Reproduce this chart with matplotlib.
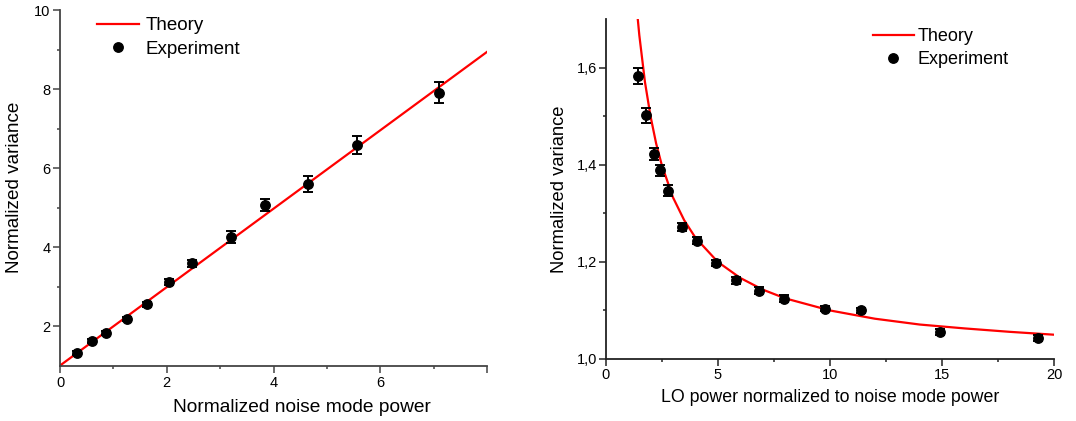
import matplotlib
matplotlib.use("Agg")
import matplotlib.pyplot as plt
from matplotlib.lines import Line2D
from matplotlib.ticker import MultipleLocator, FixedLocator, FuncFormatter

plt.rcParams['font.family'] = ['Liberation Sans', 'DejaVu Sans']

# left panel: variance vs noise mode power
noise_x = [0.31, 0.60, 0.86, 1.25, 1.63, 2.05, 2.47, 3.20, 3.84, 4.65, 5.57, 7.10]
noise_y = [1.31, 1.62, 1.83, 2.18, 2.55, 3.11, 3.59, 4.26, 5.06, 5.60, 6.59, 7.91]
noise_err = [0.05, 0.05, 0.05, 0.05, 0.06, 0.08, 0.09, 0.15, 0.15, 0.21, 0.23, 0.27]
noise_theory_x = [0.0, 8.0]
noise_theory_y = [1.0, 8.94]

# right panel: variance vs LO power
lo_x = [1.45, 1.81, 2.14, 2.41, 2.76, 3.42, 4.09, 4.93, 5.80, 6.83, 7.93, 9.79, 11.37, 14.92, 19.29]
lo_y = [1.583, 1.502, 1.422, 1.389, 1.347, 1.272, 1.244, 1.198, 1.162, 1.141, 1.124, 1.104, 1.100, 1.055, 1.044]
lo_err = [0.017, 0.015, 0.012, 0.011, 0.012, 0.009, 0.008, 0.007, 0.007, 0.007, 0.007, 0.006, 0.006, 0.006, 0.006]
lo_theory_x = [1.38, 1.5, 1.75, 2.0, 2.25, 2.5, 3.0, 3.5, 4.0, 5.0, 6.0, 7.0, 8.0, 10.0, 12.0, 14.0, 16.0, 18.0, 20.0]
lo_theory_y = [1.725, 1.667, 1.571, 1.500, 1.444, 1.400, 1.333, 1.286, 1.250, 1.200, 1.167, 1.143,
               1.125, 1.100, 1.083, 1.071, 1.063, 1.056, 1.050]

RED = '#ff0000'
TICK_FS = 10.5


def style_axes(ax, spine_color, ypad):
    for s in ['top', 'right']:
        ax.spines[s].set_visible(False)
    for s in ['left', 'bottom']:
        ax.spines[s].set_color(spine_color)
        ax.spines[s].set_linewidth(1.3)
    ax.tick_params(which='major', direction='out', length=4.8, width=1.1,
                   color=spine_color, labelsize=TICK_FS, pad=3)
    ax.tick_params(which='minor', direction='out', length=2.5, width=1.1, color=spine_color)
    ax.tick_params(axis='y', which='major', pad=ypad)


def make_legend(ax, x0, y0, fs, textpad):
    handles = [Line2D([], [], color=RED, lw=1.6),
               Line2D([], [], ls='none', marker='o', color='black', markersize=6.8)]
    ax.legend(handles, ['Theory', 'Experiment'], loc='upper left', bbox_to_anchor=(x0, y0),
              frameon=False, fontsize=fs, handlelength=2.25, handletextpad=textpad,
              labelspacing=0.33, borderaxespad=0, borderpad=0)


fig = plt.figure(figsize=(10.76, 4.21), dpi=100)

# ---- left panel
ax1 = fig.add_axes([0.0558, 0.1318, 0.3968, 0.8444])
ax1.plot(noise_theory_x, noise_theory_y, color=RED, lw=1.6, zorder=2)
ax1.errorbar(noise_x, noise_y, yerr=noise_err, fmt='o', color='black', markersize=6.8,
             elinewidth=1.4, capsize=3.5, capthick=1.4, zorder=3)
ax1.set_xlim(0, 8)
ax1.set_ylim(1, 10)
ax1.xaxis.set_major_locator(FixedLocator([0, 2, 4, 6, 8]))
ax1.xaxis.set_minor_locator(MultipleLocator(1))
ax1.xaxis.set_major_formatter(FuncFormatter(lambda v, p: '' if v >= 8 else f'{v:.0f}'))
ax1.yaxis.set_major_locator(FixedLocator([2, 4, 6, 8, 10]))
ax1.yaxis.set_minor_locator(FixedLocator([3, 5, 7, 9]))
style_axes(ax1, '#444444', 2)
ax1.set_xlabel('Normalized noise mode power', fontsize=13.8)
ax1.set_ylabel('Normalized variance', fontsize=13.6)
ax1.xaxis.set_label_coords(0.566, -0.095)
ax1.yaxis.set_label_coords(-0.087, 0.5)
make_legend(ax1, 0.087, 0.98, 13.5, 0.35)

# ---- right panel
ax2 = fig.add_axes([0.5629, 0.1473, 0.4169, 0.8069])
ax2.plot(lo_theory_x, lo_theory_y, color=RED, lw=1.6, zorder=2)
ax2.errorbar(lo_x, lo_y, yerr=lo_err, fmt='o', color='black', markersize=6.8,
             elinewidth=1.4, capsize=3.5, capthick=1.4, zorder=3)
ax2.set_xlim(0, 20)
ax2.set_ylim(1.0, 1.7)
ax2.xaxis.set_major_locator(MultipleLocator(5))
ax2.xaxis.set_minor_locator(MultipleLocator(2.5))
ax2.yaxis.set_major_locator(FixedLocator([1.0, 1.2, 1.4, 1.6]))
ax2.yaxis.set_minor_locator(FixedLocator([1.1, 1.3, 1.5]))
ax2.yaxis.set_major_formatter(FuncFormatter(lambda v, p: f'{v:.1f}'.replace('.', ',')))
style_axes(ax2, '#222222', 1.5)
ax2.tick_params(axis='x', which='major', pad=1.5)
ax2.set_xlabel('LO power normalized to noise mode power', fontsize=12.8)
ax2.set_ylabel('Normalized variance', fontsize=13.2)
ax2.xaxis.set_label_coords(0.5, -0.088)
ax2.yaxis.set_label_coords(-0.084, 0.5)
make_legend(ax2, 0.596, 0.974, 13.0, 0.2)

fig.savefig('out.png', dpi=100)
